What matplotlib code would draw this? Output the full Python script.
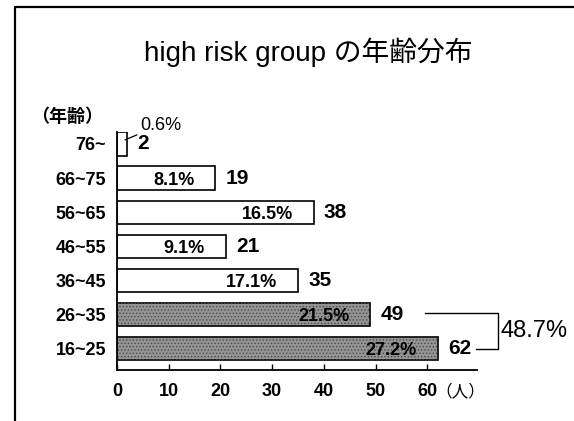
import matplotlib
matplotlib.use("Agg")
import matplotlib.pyplot as plt
from matplotlib.lines import Line2D

plt.rcParams['font.family'] = ['Liberation Sans', 'Noto Sans CJK JP']
plt.rcParams['hatch.linewidth'] = 0.6

ages = ['16~25', '26~35', '36~45', '46~55', '56~65', '66~75', '76~']
counts = [62, 49, 35, 21, 38, 19, 2]
shares = ['27.2%', '21.5%', '17.1%', '9.1%', '16.5%', '8.1%', '0.6%']
young_total = '48.7%'

W, H = 574, 421
fig = plt.figure(figsize=(W / 100, H / 100), dpi=100)
ax = fig.add_axes([117 / W, 1 - 370 / H, 360 / W, 238 / H])

pos = list(range(len(ages)))
fills = ['#949494', '#949494'] + ['white'] * 5
ax.barh(pos, counts, height=0.68, color=fills, edgecolor='black', linewidth=1.2)
# halftone look on the two youngest groups
ax.barh(pos[:2], counts[:2], height=0.68, color='none', edgecolor='#4a4a4a',
        linewidth=0, hatch='.....')

ax.set_xlim(0, 69.6)
ax.set_ylim(-0.62, 6.35)
ax.set_yticks(pos)
ax.set_yticklabels(ages, fontsize=13, fontweight='bold')
ax.tick_params(axis='y', length=0, pad=8)
ax.set_xticks(range(0, 70, 10))
ax.set_xticklabels([str(v) for v in range(0, 70, 10)], fontsize=13, fontweight='bold')
ax.tick_params(axis='x', direction='in', length=4, width=1, pad=9)
for s in ('top', 'right'):
    ax.spines[s].set_visible(False)
for s in ('left', 'bottom'):
    ax.spines[s].set_linewidth(1.3)

for i, (n, p) in enumerate(zip(counts, shares)):
    ax.text(n + 2, i, str(n), ha='left', va='center', fontsize=15, fontweight='bold')
    if n > 5:
        ax.text(n - 4, i - 0.06, p, ha='right', va='center', fontsize=13, fontweight='bold')
    else:
        ax.annotate(p, xy=(n - 0.45, i + 0.12), xytext=(n + 2.4, i + 0.55),
                    fontsize=13, ha='left', va='center',
                    arrowprops=dict(arrowstyle='-', lw=0.9, color='black',
                                    shrinkA=0, shrinkB=0))

# bracket joining the two youngest groups
bx = 73.7
ax.add_line(Line2D([counts[1] + 10.6, bx, bx, counts[0] + 7.5], [1.05, 1.05, 0, 0],
                   color='black', lw=1.0, clip_on=False))
ax.text(bx + 0.4, 0.53, young_total, ha='left', va='center', fontsize=17)

ax.annotate('（人）', xy=(60, 0), xycoords=('data', 'axes fraction'),
            xytext=(6, -15.5), textcoords='offset points',
            ha='left', va='center', fontsize=12)
fig.text(67 / W, 1 - 117 / H, '（年齢）', ha='center', va='center', fontsize=13,
         fontweight='bold')

fig.text(308 / W, 1 - 52 / H, 'high risk group の年齢分布', ha='center', va='center',
         fontsize=20)

# outer frame (left and top edges)
fig.add_artist(Line2D([15 / W, 15 / W, 1], [0, 1 - 7 / H, 1 - 7 / H],
                      transform=fig.transFigure, color='black', lw=1.6))

fig.savefig('out.png', dpi=100)
